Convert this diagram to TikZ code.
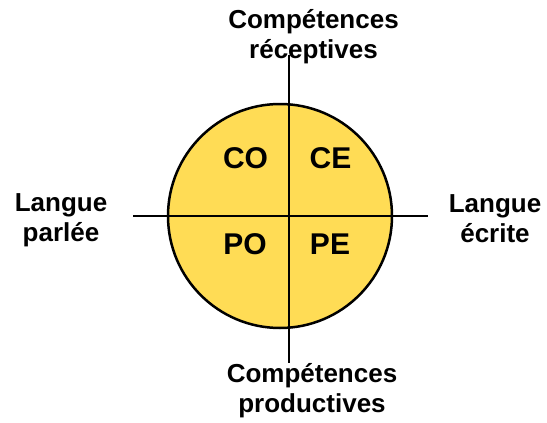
\documentclass[tikz,border=0pt]{standalone}
\usepackage{fontspec}
\setmainfont{Liberation Sans}
\definecolor{circfill}{RGB}{255,220,85}
\begin{document}
\begin{tikzpicture}[x=1pt,y=-1pt,
  lbl/.style={font=\bfseries\fontsize{26}{30}\selectfont, align=center, inner sep=0pt, anchor=base},
  quad/.style={font=\bfseries\fontsize{30}{36}\selectfont, inner sep=0pt, anchor=base},
  axis/.style={line width=1.5pt, black}]
\useasboundingbox (0,0) rectangle (547,423);
\node[circle, draw, line width=2.5pt, fill=circfill, minimum size=224pt, inner sep=0pt] (c) at (280,216) {};
\coordinate (vtop) at (289,55);
\coordinate (vbot) at (289,363);
\coordinate (hleft) at (133,216);
\coordinate (hright) at (428,216);
\draw[axis] (vtop) -- (vbot);
\draw[axis] (hleft) -- (hright);
\node[quad] (co) at (245.5,168) {CO};
\node[quad] (ce) at (330.5,168) {CE};
\node[quad] (po) at (245,254) {PO};
\node[quad] (pe) at (330,254) {PE};
\node[lbl] (rec) at (313.5,58) {Compétences\\réceptives};
\node[lbl] (prod) at (312,412) {Compétences\\productives};
\node[lbl] (parl) at (61,241) {Langue\\parlée};
\node[lbl] (ecr) at (495,242) {Langue\\écrite};
\end{tikzpicture}
\end{document}
